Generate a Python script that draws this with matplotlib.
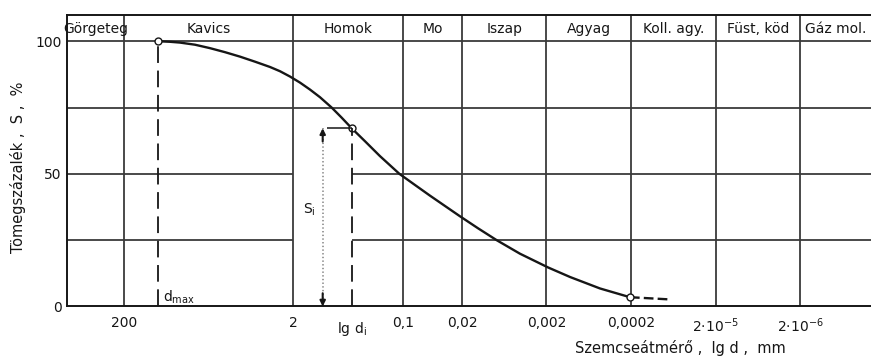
import matplotlib.pyplot as plt

plt.rcParams['font.family'] = 'DejaVu Sans'
plt.rcParams['font.size'] = 10
plt.rcParams['lines.scale_dashes'] = False

# frakciohatarok (mm), feliratok
boundaries = [200, 2, 0.1, 0.02, 0.002, 0.0002, 2e-5, 2e-6]
boundary_labels = ["200", "2", "0,1", "0,02", "0,002", "0,0002",
                   "2·10$^{-5}$", "2·10$^{-6}$"]
fractions = ["Görgeteg", "Kavics", "Homok", "Mo", "Iszap", "Agyag",
             "Koll. agy.", "Füst, köd", "Gáz mol."]

# szemeloszlasi gorbe (leolvasott pontok)
d = [78.5, 57.1, 43.5, 28.9, 19.2, 12.8, 8.47, 5.63, 3.74, 2.85, 2.17,
     1.65, 1.26, 0.958, 0.697, 0.531, 0.404, 0.281, 0.187, 0.11, 0.0719,
     0.0479, 0.0318, 0.0211, 0.01294, 0.00777, 0.00412, 0.00191, 0.00105,
     0.000466, 0.000206]
S = [100, 99.8, 99.5, 98.7, 97.4, 95.9, 94.2, 92.3, 90.3, 88.7, 86.7,
     84.4, 81.8, 78.9, 75.0, 71.2, 67.2, 62.3, 56.7, 50.0, 45.8,
     41.8, 37.9, 34.0, 29.5, 25.0, 19.9, 14.7, 11.1,
     6.8, 3.5]
d_tail = [0.000206, 7.3e-5]
S_tail = [3.5, 2.7]

d_max = 78.5
d_i, S_i = 0.404, 67.2
d_arrow = 0.89
d_lead = 0.80

x_left, x_right = 945, 2.89e-7
ink = '#161616'
grid_c = '#3a3a3a'

fig = plt.figure(figsize=(8.71, 3.58), dpi=100)
ax = fig.add_axes([0.0769, 0.1439, 0.9231, 0.8142])
ax.set_xscale('log')
ax.set_xlim(x_left, x_right)
ax.set_ylim(0, 109.9)

# racs
for b in boundaries:
    ax.axvline(b, color=grid_c, lw=1.3)
ax.axhline(100, color=grid_c, lw=1.3)
ax.axhline(75, color=grid_c, lw=1.3)
for s in [25, 50]:
    ax.hlines(s, x_left, 2, color=grid_c, lw=1.3)
    ax.hlines(s, d_i, x_right, color=grid_c, lw=1.3)

# fejlec
for i, name in enumerate(fractions):
    if i == 0:
        ax.text((x_left * boundaries[0]) ** 0.5, 104.5, name, ha='center', va='center', color=ink)
    elif i < len(boundaries):
        ax.text((boundaries[i - 1] * boundaries[i]) ** 0.5, 104.5, name, ha='center', va='center', color=ink)
    else:
        ax.text(boundaries[-1] * 0.88, 104.5, name, ha='left', va='center', color=ink)

# gorbe
ax.plot(d, S, color=ink, lw=1.7)
ax.plot(d_tail, S_tail, color=ink, lw=1.7, dashes=(7, 3))
ax.plot([d_max, d_i, d[-1]], [100, S_i, S[-1]], 'o', mfc='white', mec=ink, ms=5, mew=1)

# szaggatott vonalak
ax.plot([d_max, d_max], [0, 100], color=ink, lw=1.3, dashes=(12, 5.5))
ax.plot([d_i, d_i], [0, S_i], color=ink, lw=1.3, dashes=(12, 5.5))
ax.hlines(S_i, d_lead, d_i, color=ink, lw=1.1)

# S_i nyil
ax.plot([d_arrow, d_arrow], [0, S_i], color='#8a8a8a', lw=1.2, ls=':')
ax.annotate('', xy=(d_arrow, S_i), xytext=(d_arrow, S_i - 5),
            arrowprops=dict(arrowstyle='-|>', color=ink, lw=1.5, mutation_scale=8, shrinkA=0, shrinkB=0))
ax.annotate('', xy=(d_arrow, 0), xytext=(d_arrow, 5),
            arrowprops=dict(arrowstyle='-|>', color=ink, lw=1.5, mutation_scale=8, shrinkA=0, shrinkB=0))

ax.text(69, 1.7, r"$\mathregular{d_{max}}$", ha='left', va='baseline', color=ink)
ax.text(1.52, 36.4, r"$\mathregular{S_i}$", ha='left', va='center', color=ink)
ax.text(d_i, -8.5, r"$\mathregular{lg\ d_i}$", ha='center', va='center', color=ink, clip_on=False)

# tengelyek
ax.set_xticks(boundaries)
ax.set_xticklabels(boundary_labels)
ax.minorticks_off()
ax.set_yticks([0, 50, 100])
ax.set_yticklabels(["0", "50", "100"])
ax.tick_params(axis='x', length=0, pad=7, colors=ink)
ax.tick_params(axis='y', length=0, pad=4, colors=ink)
for side in ['left', 'bottom', 'top']:
    ax.spines[side].set_color(ink)
    ax.spines[side].set_linewidth(1.4)
ax.spines['right'].set_visible(False)

fig.text(0.021, 0.533, "Tömegszázalék ,  S ,  %", rotation=90, ha='center', va='center',
         color=ink, fontsize=10.5)
fig.text(0.781, 0.028, "Szemcseátmérő ,  lg d ,  mm", ha='center', va='center',
         color=ink, fontsize=10.5)

plt.savefig("out.png", dpi=100)
